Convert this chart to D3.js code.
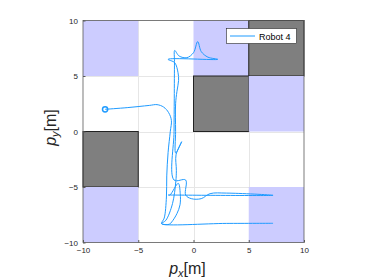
<!DOCTYPE html>
<html>
<head>
<meta charset="utf-8">
<script src="https://cdn.jsdelivr.net/npm/d3@7"></script>
<style>
body{margin:0;background:#fff;}
text{font-family:"Liberation Sans",Arial,sans-serif;}
</style>
</head>
<body>
<div id="chart-area"></div>
<script>
// axis ticks
var xTicks=[-10,-5,0,5,10];
var yTicks=[-10,-5,0,5,10];

// map cells (lower-left corner, 5x5 m each)
var cellX=[-10,0,5,0,5,-10,-10,5];
var cellY=[5,5,5,0,0,-5,-10,-10];
var cellKind=["free","free","obst","obst","free","obst","free","free"];

// Robot 4 path
var pathX=[-8,-6,-4,-3.3,-2.7,-2.25,-2.0,-2.1,-2.3,-2.42,-2.45,-2.65,-2.9,-2.2,-1.97,-1.5,-1.22,-1.2,-1.38,-2.13,-2.28,
  7.2,3,1.5,0.7,-0.2,-0.71,-0.71,-1.76,-1.76,-1.74,-1.72,-1.7,
  -1.3,-0.6,0.0,0.38,0.7,1.3,2.2,-2.3,-1.7,-1.4,-1.35,-1.5,-1.62,-1.62,-1.61,-1.07,
  -1.58,-1.55,-1.6,-1.9,-2.5,-2.88,3,7.2];
var pathY=[2,2.15,2.35,2.42,2.2,1.7,1.0,0,-1.9,-4,-5.9,-7.8,-8.3,-8.36,-8.15,-7.4,-6.6,-5.6,-4.67,-5.72,-5.72,
  -5.75,-5.55,-5.6,-6.05,-6.05,-5.72,-4.37,-4.37,0,3,6.3,7.3,
  6.8,6.65,7.1,8.1,7.2,6.7,6.5,6.5,6.2,5.3,4.6,3.6,2.5,0,-1.94,-0.92,
  -2.1,-3.5,-4.5,-6.5,-8.0,-8.3,-8.28,-8.27];
var seriesName="Robot 4";

var x=d3.scaleLinear().domain([-10,10]).range([83,304]);
var y=d3.scaleLinear().domain([-10,10]).range([242.5,20.5]);

var svg=d3.select("#chart-area").append("svg")
    .attr("width",374)
    .attr("height",280);

// grid
var grid=svg.append("g").attr("stroke","#e6e6e6").attr("stroke-width",1);
xTicks.slice(1,-1).forEach(function(t){
    grid.append("line")
        .attr("x1",Math.round(x(t))+0.5).attr("x2",Math.round(x(t))+0.5)
        .attr("y1",y(-10)).attr("y2",y(10));
});
yTicks.slice(1,-1).forEach(function(t){
    grid.append("line")
        .attr("y1",Math.round(y(t))+0.5).attr("y2",Math.round(y(t))+0.5)
        .attr("x1",x(-10)).attr("x2",x(10));
});

// cells
svg.append("g").selectAll("rect")
    .data(cellX.map(function(d,i){return {x:d,y:cellY[i],k:cellKind[i]};}))
    .enter().append("rect")
    .attr("x",function(d){return x(d.x);})
    .attr("y",function(d){return y(d.y+5);})
    .attr("width",function(d){return x(d.x+5)-x(d.x);})
    .attr("height",function(d){return y(d.y)-y(d.y+5);})
    .attr("fill",function(d){return d.k=="obst"?"#7f7f7f":"#ccccff";})
    .attr("stroke",function(d){return d.k=="obst"?"#222":"none";})
    .attr("stroke-width",1);

// path
var pts=pathX.map(function(d,i){return [d,pathY[i]];});
var line=d3.line()
    .x(function(d){return x(d[0]);})
    .y(function(d){return y(d[1]);})
    .curve(d3.curveCatmullRom.alpha(0.5));
svg.append("path")
    .attr("d",line(pts))
    .attr("fill","none")
    .attr("stroke","#1f9bff")
    .attr("stroke-width",1)
    .attr("stroke-linejoin","round");

svg.append("circle")
    .attr("cx",x(pathX[0]))
    .attr("cy",y(pathY[0]))
    .attr("r",2.6)
    .attr("fill","none")
    .attr("stroke","#1f9bff")
    .attr("stroke-width",1.5);

// axes box
svg.append("rect")
    .attr("x",x(-10)).attr("y",y(10))
    .attr("width",x(10)-x(-10)).attr("height",y(-10)-y(10))
    .attr("fill","none").attr("stroke","#5a5a5a").attr("stroke-width",0.8);

var bottomAxis=d3.axisBottom(x).tickValues(xTicks).tickSize(-2.5).tickPadding(5);
var leftAxis=d3.axisLeft(y).tickValues(yTicks).tickSize(-2.5).tickPadding(5);

svg.append("g")
    .attr("transform","translate(0,"+y(-10)+")")
    .call(bottomAxis)
    .call(function(g){g.select(".domain").remove();})
    .call(function(g){g.selectAll("line").attr("stroke","#5a5a5a");})
    .selectAll("text")
        .attr("font-size","8px")
        .attr("fill","#262626")
        .attr("font-family","'Liberation Sans',Arial,sans-serif");

svg.append("g")
    .attr("transform","translate("+x(-10)+",0)")
    .call(leftAxis)
    .call(function(g){g.select(".domain").remove();})
    .call(function(g){g.selectAll("line").attr("stroke","#5a5a5a");})
    .selectAll("text")
        .attr("font-size","8px")
        .attr("fill","#262626")
        .attr("font-family","'Liberation Sans',Arial,sans-serif");

// axis labels
var xl=svg.append("text")
    .attr("x",(x(-10)+x(10))/2-6)
    .attr("y",274)
    .attr("text-anchor","middle")
    .attr("font-family","'Liberation Serif','DejaVu Serif',serif")
    .attr("font-size","16px")
    .attr("fill","#262626");
xl.append("tspan").attr("font-style","italic").text("p");
xl.append("tspan").attr("font-style","italic").attr("font-size","11px").attr("dy",3).text("x");
xl.append("tspan").attr("dy",-3).text("[m]");

var yl=svg.append("text")
    .attr("transform","translate(56,"+((y(-10)+y(10))/2-4)+") rotate(-90)")
    .attr("text-anchor","middle")
    .attr("font-family","'Liberation Serif','DejaVu Serif',serif")
    .attr("font-size","16px")
    .attr("fill","#262626");
yl.append("tspan").attr("font-style","italic").text("p");
yl.append("tspan").attr("font-style","italic").attr("font-size","11px").attr("dy",3).text("y");
yl.append("tspan").attr("dy",-3).text("[m]");

// legend
var legend=svg.append("g").attr("transform","translate(226,28)");
legend.append("rect")
    .attr("x",0.5).attr("y",0.5)
    .attr("width",70).attr("height",15)
    .attr("fill","#fff").attr("stroke","#262626").attr("stroke-width",0.6);
legend.append("line")
    .attr("x1",4).attr("x2",29).attr("y1",8).attr("y2",8)
    .attr("stroke","#1f9bff").attr("stroke-width",1);
legend.append("text")
    .attr("x",33).attr("y",11.5)
    .attr("font-size","9px")
    .attr("fill","#000")
    .text(seriesName);
</script>
</body>
</html>
